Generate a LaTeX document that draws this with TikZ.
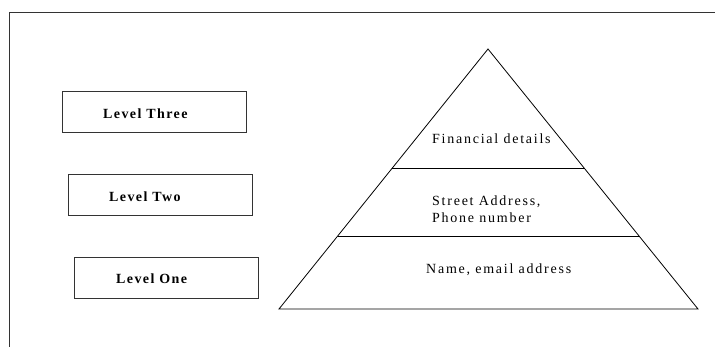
\documentclass[tikz,border=0pt]{standalone}
\usepackage{fontspec}
\setmainfont{Liberation Serif}
\newfontfamily\spacedserif[LetterSpace=12.5]{Liberation Serif}
\newfontfamily\spacedbold[LetterSpace=10]{Liberation Serif Bold}
\usetikzlibrary{calc}
\begin{document}
\begin{tikzpicture}[x=1pt, y=-1pt,
  frameline/.style={line width=1pt, draw=black!80},
  levelbox/.style={draw=black!80, line width=1pt, minimum width=184pt,
    minimum height=41pt, anchor=north west, inner sep=0pt},
  lbl/.style={anchor=base west, inner sep=0pt,
    font=\spacedserif\fontsize{14}{17}\selectfont},
  boldlbl/.style={lbl, font=\spacedbold\fontsize{14}{17}\selectfont},
  pyr/.style={line width=0.8pt, draw=black, line join=miter}]
  \useasboundingbox (0,0) rectangle (715,347);

  % open frame: left and top edges
  \coordinate (fb) at (9,347);
  \coordinate (fc) at (9,13);
  \coordinate (fr) at (715,13);
  \draw[frameline] (fb) -- (fc) -- (fr);

  % level boxes
  \node[levelbox] (box3) at (62,91) {};
  \node[levelbox] (box2) at (68,174) {};
  \node[levelbox] (box1) at (74,257) {};
  \node[boldlbl] (lv3) at (103,119) {Level Three};
  \node[boldlbl] (lv2) at (109,202) {Level Two};
  \node[boldlbl] (lv1) at (116,284) {Level One};

  % pyramid with its two dividing lines
  \coordinate (apex) at (488,49);
  \coordinate (bl) at (279,309);
  \coordinate (br) at (698,309);
  \draw[pyr] (apex) -- (bl) -- (br) -- cycle;
  \coordinate (u1) at ($(apex)!0.4577!(bl)$);
  \coordinate (u2) at ($(apex)!0.4577!(br)$);
  \coordinate (d1) at ($(apex)!0.7192!(bl)$);
  \coordinate (d2) at ($(apex)!0.7192!(br)$);
  \draw[pyr] (u1) -- (u2);
  \draw[pyr] (d1) -- (d2);

  % tier texts
  \node[lbl] (fin) at (432,144) {Financial details};
  \node[lbl] (street) at (432,206) {Street Address,};
  \node[lbl] (phone) at (432,222.5) {Phone number};
  \node[lbl] (name) at (426,273.5) {Name, email address};
\end{tikzpicture}
\end{document}
